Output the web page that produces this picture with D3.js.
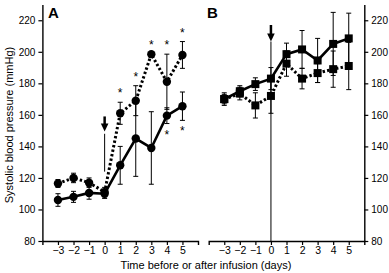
<!DOCTYPE html>
<html>
<head>
<meta charset="utf-8">
<script src="https://cdn.jsdelivr.net/npm/d3@7"></script>
<style>
  body { margin: 0; background: #fff; }
  svg { display: block; font-family: "Liberation Sans", Arial, sans-serif; }
</style>
</head>
<body>
<div id="chart"></div>
<script>
// DATA
const days = [-3, -2, -1, 0, 1, 2, 3, 4, 5];
const yTicks = [80, 100, 120, 140, 160, 180, 200, 220];

const aSolid = [106, 108, 110.5, 110, 128, 145, 139, 159.5, 165.5];
const aSolidErr = [4, 3.5, 4, 3, 12, 24, 23, 5, 9];
const aDotted = [116.5, 120, 117, 111, 161, 169, 198.5, 181, 198];
const aDottedErr = [2.5, 3, 3, 3, 7, 9.5, 0, 17.5, 8.5];

const bSolid = [170, 175, 179.5, 183, 198.5, 201.5, 194.5, 205, 208.5];
const bSolidErr = [4, 3.5, 4, 7, 7, 12, 14, 20, 16];
const bDotted = [170, 173.5, 166, 172, 192.5, 183, 186.5, 189, 191];
const bDottedErr = [3, 4, 8, 11, 8, 6.5, 6, 11.5, 15];

// significance stars (days)
const aStarsDotted = [1, 2, 3, 4, 5];
const aStarsSolid = [4, 5];

// infusion arrow, in mmHg: arrow top, arrow tip, start and end of the thin line
const arrowA = [159, 149.5, 148, 124];
const arrowB = [217, 206.5, 206.5, 80];

// LAYOUT
const W = 389, H = 273;
const yTop = 4.5, yBottom = 241;

const svg = d3.select("#chart").append("svg")
    .attr("width", W)
    .attr("height", H);

const y = d3.scaleLinear()
    .domain([80, 230])
    .range([yBottom, yTop]);

const xA = d3.scaleLinear().domain([-4, 6]).range([42.4, 198]);
const xB = d3.scaleLinear().domain([-4, 6]).range([208.7, 364.3]);

const fmtTick = d => d < 0 ? "\u2212" + Math.abs(d) : String(d);

function drawAxes(x, side) {
    const gx = svg.append("g")
        .attr("transform", `translate(0, ${yBottom})`)
        .call(d3.axisBottom(x).tickValues(days).tickSize(4).tickSizeOuter(4).tickPadding(2).tickFormat(fmtTick));
    gx.select(".domain").attr("stroke-width", 1.4);
    gx.selectAll(".tick line").attr("stroke-width", 1.2);
    gx.selectAll("text").style("font-size", "10.5px").attr("fill", "#000");

    const axisX = side === "left" ? x.range()[0] : x.range()[1];
    const axisFn = side === "left" ? d3.axisLeft(y) : d3.axisRight(y);
    const gy = svg.append("g")
        .attr("transform", `translate(${axisX}, 0)`)
        .call(axisFn.tickValues(yTicks).tickSize(4).tickSizeOuter(0).tickPadding(3));
    gy.select(".domain").attr("stroke-width", 1.4);
    gy.selectAll(".tick line").attr("stroke-width", 1.2);
    gy.selectAll("text").style("font-size", "10px").attr("fill", "#000");
}

function drawSeries(x, vals, errs, dashed, shape) {
    const g = svg.append("g");
    const pts = days.map((d, i) => ({ day: d, v: vals[i], e: errs[i] }));

    // error bars
    const eb = g.selectAll(".eb")
        .data(pts.filter(p => p.e > 0))
        .enter().append("g")
        .attr("stroke", "#000")
        .attr("stroke-width", 1);
    eb.append("line")
        .attr("x1", p => x(p.day)).attr("x2", p => x(p.day))
        .attr("y1", p => y(p.v - p.e)).attr("y2", p => y(p.v + p.e));
    eb.append("line")
        .attr("x1", p => x(p.day) - 2.5).attr("x2", p => x(p.day) + 2.5)
        .attr("y1", p => y(p.v + p.e)).attr("y2", p => y(p.v + p.e));
    eb.append("line")
        .attr("x1", p => x(p.day) - 2.5).attr("x2", p => x(p.day) + 2.5)
        .attr("y1", p => y(p.v - p.e)).attr("y2", p => y(p.v - p.e));

    // line
    const line = d3.line().x(p => x(p.day)).y(p => y(p.v));
    g.append("path")
        .datum(pts)
        .attr("d", line)
        .attr("fill", "none")
        .attr("stroke", "#000")
        .attr("stroke-width", dashed ? 3 : 2.6)
        .attr("stroke-dasharray", dashed ? "2.4,2.2" : null);

    // markers
    if (shape === "circle") {
        g.selectAll("circle")
            .data(pts)
            .enter().append("circle")
            .attr("cx", p => x(p.day))
            .attr("cy", p => y(p.v))
            .attr("r", 4.2)
            .attr("fill", "#000");
    } else {
        g.selectAll("rect")
            .data(pts)
            .enter().append("rect")
            .attr("x", p => x(p.day) - 4)
            .attr("y", p => y(p.v) - 4)
            .attr("width", 8)
            .attr("height", 8)
            .attr("fill", "#000");
    }
}

function drawArrow(x, a) {
    const cx = x(0);
    svg.append("line")
        .attr("x1", cx).attr("x2", cx)
        .attr("y1", y(a[2])).attr("y2", y(a[3]))
        .attr("stroke", "#000").attr("stroke-width", 1);
    svg.append("line")
        .attr("x1", cx).attr("x2", cx)
        .attr("y1", y(a[0])).attr("y2", y(a[1]) - 6)
        .attr("stroke", "#000").attr("stroke-width", 2.5);
    svg.append("path")
        .attr("d", `M${cx - 3.8},${y(a[1]) - 8}L${cx + 3.8},${y(a[1]) - 8}L${cx},${y(a[1])}Z`)
        .attr("fill", "#000");
}

function drawStars(x, list, vals, errs, above) {
    svg.selectAll(null)
        .data(list)
        .enter().append("text")
        .attr("x", d => x(d))
        .attr("y", d => {
            const i = days.indexOf(d);
            return above ? y(vals[i] + errs[i]) - 5 : y(vals[i] - errs[i]) + 15;
        })
        .attr("text-anchor", "middle")
        .style("font-size", "12px")
        .text("*");
}

// PANEL A
drawAxes(xA, "left");
drawArrow(xA, arrowA);
drawSeries(xA, aDotted, aDottedErr, true, "circle");
drawSeries(xA, aSolid, aSolidErr, false, "circle");
drawStars(xA, aStarsDotted, aDotted, aDottedErr, true);
drawStars(xA, aStarsSolid, aSolid, aSolidErr, false);

// PANEL B
drawAxes(xB, "right");
drawArrow(xB, arrowB);
drawSeries(xB, bDotted, bDottedErr, true, "rect");
drawSeries(xB, bSolid, bSolidErr, false, "rect");

// labels
svg.append("text")
    .attr("x", 48).attr("y", 18)
    .style("font-size", "15px").style("font-weight", "bold")
    .text("A");
svg.append("text")
    .attr("x", 207).attr("y", 18)
    .style("font-size", "15px").style("font-weight", "bold")
    .text("B");

svg.append("text")
    .attr("text-anchor", "middle")
    .attr("x", 206).attr("y", 269)
    .style("font-size", "11px")
    .text("Time before or after infusion (days)");

svg.append("text")
    .attr("text-anchor", "middle")
    .attr("transform", "rotate(-90)")
    .attr("x", -125).attr("y", 13)
    .style("font-size", "11px")
    .text("Systolic blood pressure (mmHg)");
</script>
</body>
</html>
